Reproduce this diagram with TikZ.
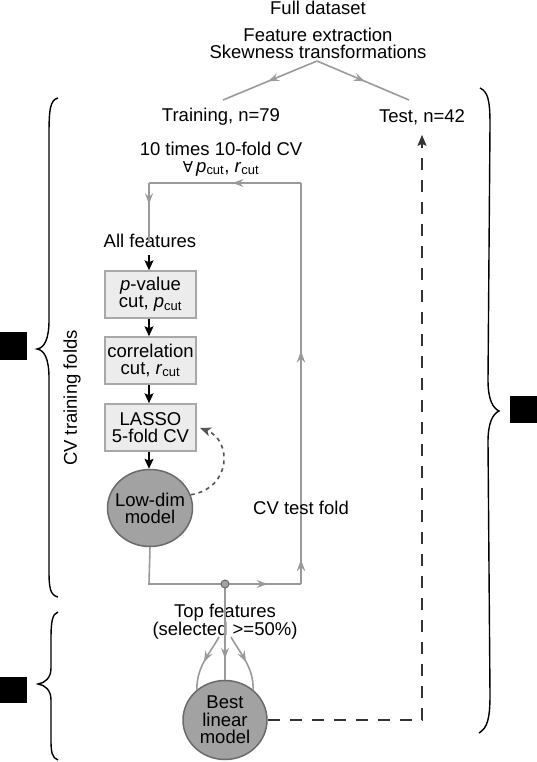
\documentclass[tikz,border=0pt]{standalone}
\usepackage{fontspec}
\setmainfont{Liberation Sans}
\newfontfamily\dejavu{DejaVu Sans}
\usetikzlibrary{arrows.meta,decorations.markings,shapes.geometric}
\definecolor{lgray}{HTML}{9A9A9A}
\definecolor{boxfill}{HTML}{ECECEC}
\definecolor{boxdraw}{HTML}{A8A8A8}
\definecolor{ellfill}{HTML}{A2A2A2}
\definecolor{elldraw}{HTML}{6A6A6A}
\definecolor{dgray}{HTML}{555555}
\definecolor{ddash}{HTML}{333333}
\begin{document}
\begin{tikzpicture}[x=1pt,y=-1pt,
  txt/.style={inner sep=1pt,font=\fontsize{18.5}{17}\selectfont,align=center},
  stepbox/.style={txt,draw=boxdraw,fill=boxfill,line width=1.5pt,minimum width=91pt,minimum height=47pt,inner sep=0pt},
  modelell/.style={ellipse,draw=elldraw,fill=ellfill,line width=1.5pt,inner sep=0pt},
  gline/.style={draw=lgray,line width=1.6pt},
  midarr/.style={postaction={decorate},decoration={markings,mark=at position #1 with {\arrow[lgray]{Stealth[length=11pt,width=8pt,inset=4pt]}}}},
  barrow/.style={draw=black,line width=1.3pt,-{Stealth[length=10pt,width=9pt,inset=2pt]}},
  brace/.style={draw=black,line width=1.4pt}
]
\useasboundingbox (0,0) rectangle (537,762);

% top texts
\node[txt] (full) at (318,8) {Full dataset};
\node[txt] (fe) at (318,43) {Feature extraction\\Skewness transformations};
\coordinate (apex) at (317,61);
\coordinate (tl) at (223,100);
\coordinate (tr) at (409,100);
\draw[gline,midarr=0.52] (apex) -- (tl);
\draw[gline,midarr=0.52] (apex) -- (tr);
\node[txt] (train) at (221,117) {Training, n=79};
\node[txt] (test) at (422,117) {Test, n=42};
\node[txt] (cv) at (221,159) {10 times 10-fold CV\\{\dejavu\fontsize{15}{15}\selectfont ∀}\,\textit{p}\textsubscript{cut}, \textit{r}\textsubscript{cut}};

% loop
\coordinate (loopTR) at (301,183);
\coordinate (loopTL) at (149,183);
\coordinate (loopBL) at (149,584);
\coordinate (loopBR) at (301,584);
\coordinate (dotc) at (225,584);
\coordinate (allend) at (149,242);

\node[txt] (allf) at (150,241) {All features};
\node[stepbox] (pv) at (150.5,294.5) {\textit{p}-value\\cut, \textit{p}\textsubscript{cut}};
\node[stepbox] (corr) at (150.5,360.5) {correlation\\cut, \textit{r}\textsubscript{cut}};
\node[stepbox] (lasso) at (150.5,427.5) {LASSO\\5-fold CV};
\node[modelell,minimum width=85pt,minimum height=77pt] (low) at (150,508) {};
\node[txt] (lowtxt) at (low.center) {Low-dim\\model};

\draw[gline,midarr=0.45] (loopTR) -- (loopTL);
\draw[gline,midarr=0.36] (loopTL) -- (allend);
\draw[gline] (low.south) -- (loopBL) -- (dotc);
\draw[gline,midarr=0.56] (dotc) -- (loopBR);
\draw[gline,midarr=0.06,midarr=0.58] (loopBR) -- (loopTR);
\node[txt] (cvtest) at (301,508) {CV test fold};

\draw[barrow] (149,255) -- (pv.north -| 149,0);
\draw[barrow] (pv.south -| 149,0) -- (corr.north -| 149,0);
\draw[barrow] (corr.south -| 149,0) -- (lasso.north -| 149,0);
\draw[barrow] (lasso.south -| 149,0) -- (low.north -| 149,0);

\draw[draw=dgray,line width=1.6pt,dash pattern=on 4pt off 4pt,-{Stealth[length=11pt,width=9pt,inset=3pt]}]
  (low.18) .. controls (232,488) and (232,440) .. (200,428);

% dot and final model
\node[txt] (topf) at (225,622) {Top features\\(selected >=50\%)};
\node[modelell,minimum width=84pt,minimum height=79pt] (best) at (225,720) {};
\node[txt,font=\fontsize{18.5}{17.5}\selectfont] (besttxt) at (best.center) {Best\\linear\\model};
\coordinate (cl) at (219,637);
\coordinate (cr) at (231,637);
\draw[gline,midarr=0.78] (dotc) -- (best.north);
\draw[gline,midarr=0.5] (cl) to[out=-120,in=90] (best.133);
\draw[gline,midarr=0.5] (cr) to[out=-60,in=90] (best.47);
\filldraw[fill=ellfill,draw=elldraw,line width=1pt] (dotc) circle (4pt);

\draw[draw=ddash,line width=1.8pt,dash pattern=on 12pt off 10pt,-{Stealth[length=11pt,width=9pt,inset=2pt]},shorten >=9pt]
  (best.east) -| (test.south);

% braces
\draw[brace] (58,98) .. controls (50,100) and (49,110) .. (49,135) -- (49,320) .. controls (49,340) and (44,348) .. (37,349) .. controls (44,350) and (49,358) .. (49,378) -- (49,570) .. controls (49,588) and (50,595) .. (58,597);
\draw[brace] (58,612) .. controls (52,614) and (51,622) .. (51,640) -- (51,668) .. controls (51,678) and (45,683) .. (38,684) .. controls (45,685) and (51,690) .. (51,700) -- (51,740) .. controls (51,752) and (52,758) .. (58,760);
\draw[brace] (480,88) .. controls (488,92) and (490,100) .. (490,125) -- (488,380) .. controls (488,400) and (493,408) .. (499,411) .. controls (493,414) and (488,422) .. (488,442) -- (490,695) .. controls (490,720) and (487,728) .. (479,733);

\node[txt,rotate=90] (cvtrain) at (72,398) {CV training folds};

\fill[black] (0,332) rectangle (27,360);
\fill[black] (0,677) rectangle (27,703);
\fill[black] (510,396) rectangle (537,423);
\end{tikzpicture}
\end{document}
